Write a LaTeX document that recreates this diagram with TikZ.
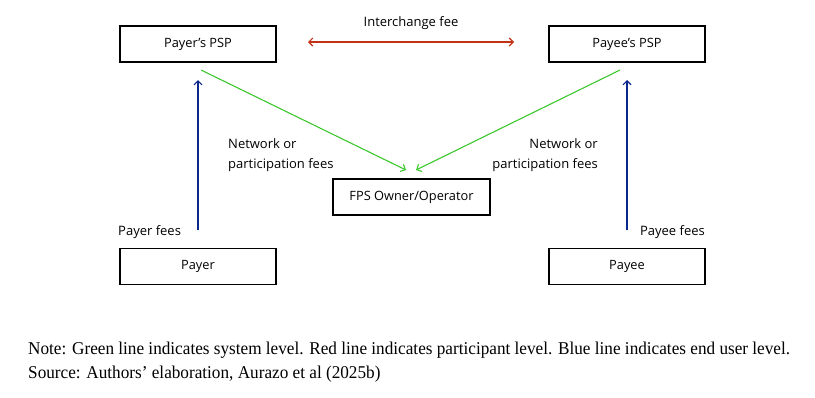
\documentclass[tikz,border=0pt]{standalone}
\usepackage{fontspec}
\setmainfont{Open Sans}
\newfontfamily\notefont[FakeStretch=0.955]{Liberation Serif}
\usetikzlibrary{arrows.meta}
\definecolor{gr}{RGB}{60,200,45}
\definecolor{rd}{RGB}{195,50,20}
\definecolor{bl}{RGB}{10,40,140}
\tikzset{
  box/.style={draw=black, line width=1.2pt, minimum width=156pt, minimum height=36pt, inner sep=0pt, font=\fontsize{12.8}{15}\selectfont},
  lbl/.style={font=\fontsize{13}{20}\selectfont, inner sep=0pt},
  arr/.style={line width=1.1pt, -{Straight Barb[length=4pt,width=8pt]}},
}
\begin{document}
\begin{tikzpicture}[x=1pt,y=-1pt]
\useasboundingbox (0,0) rectangle (815,397);
\node[box] (ppsp) at (198,44) {Payer’s PSP};
\node[box] (epsp) at (627,44) {Payee’s PSP};
\node[box, minimum width=157pt] (fps) at (411.5,197) {FPS Owner/Operator};
\node[box] (payer) at (198,266.5) {Payer};
\node[box] (payee) at (627,266.5) {Payee};
\coordinate (rl) at (308,42);
\coordinate (rr) at (514,42);
\draw[arr, rd, {Straight Barb[length=4pt,width=8pt]}-{Straight Barb[length=4pt,width=8pt]}] (rl) -- (rr);
\node[lbl] (ifee) at (411,23) {Interchange fee};
\coordinate (gl1) at (201,70);
\coordinate (gl2) at (406,170);
\coordinate (gr1) at (620,70);
\coordinate (gr2) at (416,170);
\draw[arr, gr] (gl1) -- (gl2);
\draw[arr, gr] (gr1) -- (gr2);
\coordinate (bl1) at (198,230);
\coordinate (bl2) at (198,80);
\coordinate (br1) at (627,230);
\coordinate (br2) at (627,80);
\draw[arr, bl] (bl1) -- (bl2);
\draw[arr, bl] (br1) -- (br2);
\node[lbl, anchor=north west, align=left] (nl) at (228,138) {Network or\\participation fees};
\node[lbl, anchor=north east, align=right] (nr) at (598,138) {Network or\\participation fees};
\node[lbl, anchor=west] (pf) at (118,232) {Payer fees};
\node[lbl, anchor=east] (ef) at (705,232) {Payee fees};
\node[anchor=north west, align=left, inner sep=0pt, font=\notefont\fontsize{18}{24}\selectfont] (note) at (28,342) {Note: Green line indicates system level. Red line indicates participant level. Blue line indicates end user level.\\Source: Authors’ elaboration, Aurazo et al (2025b)};
\end{tikzpicture}
\end{document}
